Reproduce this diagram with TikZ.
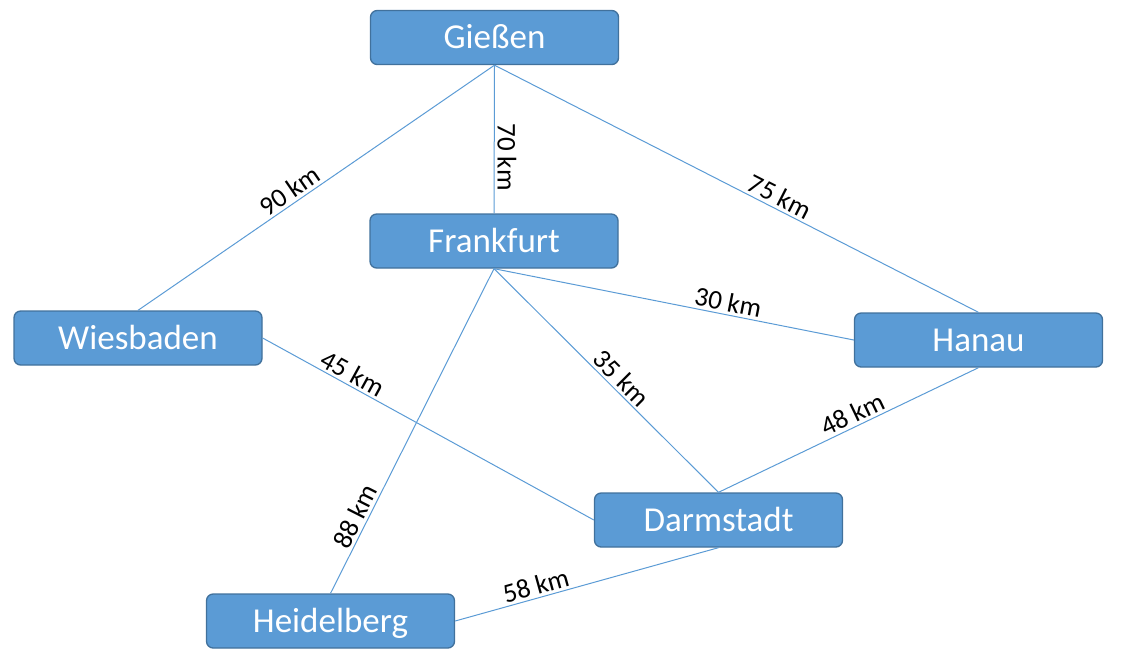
\documentclass[tikz,border=0pt]{standalone}
\usepackage{fontspec}
\setmainfont{Carlito}
\definecolor{boxfill}{HTML}{5B9BD5}
\definecolor{boxline}{HTML}{41719C}
\definecolor{edgecol}{HTML}{5B9BD5}
\begin{document}
\begin{tikzpicture}[x=0.75pt,y=-0.75pt,
  city/.style={draw=boxline, fill=boxfill, line width=1pt, rounded corners=5pt,
    minimum width=186pt, minimum height=40.5pt, inner sep=0pt,
    text=white, font=\fontsize{26.25}{30}\selectfont,
    text height=16.9pt, text depth=0pt},
  road/.style={draw=edgecol, line width=0.75pt},
  lbl/.style={sloped, anchor=south, inner sep=2pt, text=black,
    font=\fontsize{20.25}{24}\selectfont},
  vlbl/.style={rotate=-90, anchor=south, inner sep=2pt, text=black,
    font=\fontsize{20.25}{24}\selectfont}]
\useasboundingbox (0,0) rectangle (1123,669);
\node[city] (gi) at (494.5,37.5) {Gießen};
\node[city] (fr) at (494,241) {Frankfurt};
\node[city] (wi) at (138,338) {Wiesbaden};
\node[city] (ha) at (978.5,340) {Hanau};
\node[city] (da) at (718.5,520) {Darmstadt};
\node[city] (he) at (330.5,621) {Heidelberg};
\draw[road] (gi.south) -- node[lbl,pos=0.555] {90 km} (wi.north);
\draw[road] (gi.south) -- node[vlbl,pos=0.62] {70 km} (fr.north);
\draw[road] (gi.south) -- node[lbl,pos=0.578] {75 km} (ha.north);
\draw[road] (fr.south) -- node[lbl,pos=0.644] {30 km} (ha.west);
\draw[road] (fr.south) -- node[lbl,pos=0.529] {35 km} (da.north);
\draw[road] (fr.south) -- node[lbl,pos=0.781] {88 km} (he.north);
\draw[road] (wi.east) -- node[lbl,pos=0.254] {45 km} (da.west);
\draw[road] (ha.south) -- node[lbl,pos=0.462] {48 km} (da.north);
\draw[road] (da.south) -- node[lbl,pos=0.681] {58 km} (he.east);
\end{tikzpicture}
\end{document}
